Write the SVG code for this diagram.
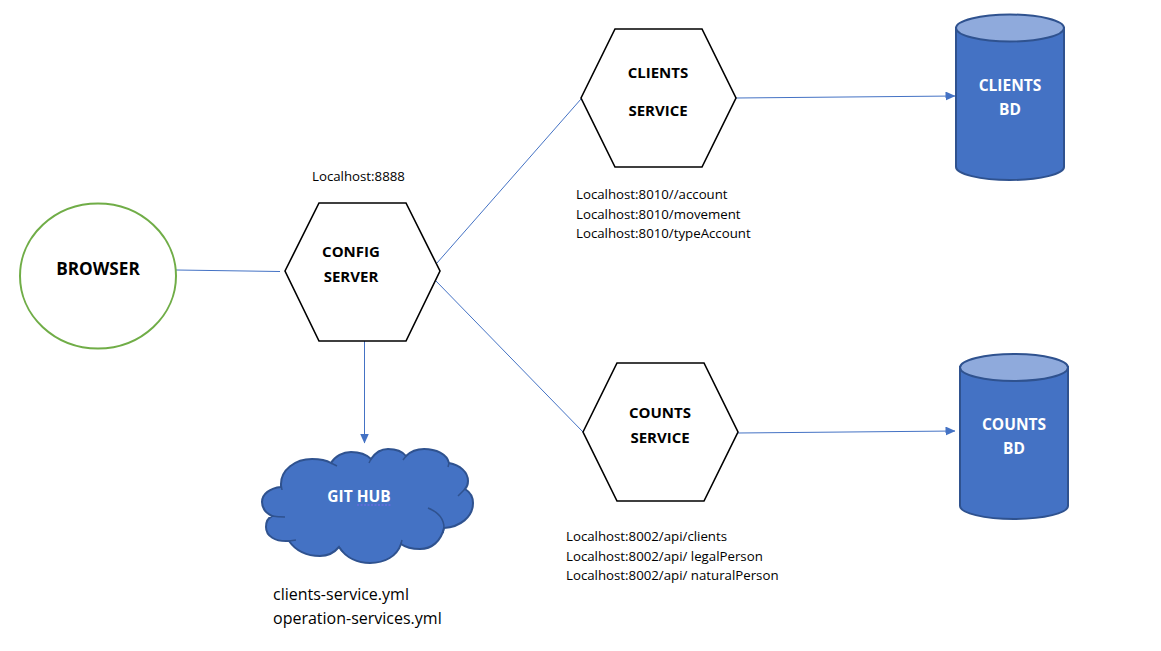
<svg xmlns="http://www.w3.org/2000/svg" width="1161" height="651" viewBox="0 0 1161 651">
<style>
text{font-family:"Open Sans","Noto Sans","Liberation Sans",sans-serif}
.hex{fill:#fff;stroke:#000;stroke-width:1.6}
.t{font-size:15px;font-weight:700;fill:#000;text-anchor:middle}
.w{font-size:15.500px;font-weight:700;fill:#fff;text-anchor:middle}
.s{font-size:13.250px;fill:#000}
.m{font-size:16px;fill:#000}
.blue{fill:#4472c4;stroke:#2f528f;stroke-width:2}
.top{fill:#8faadc;stroke:#2f528f;stroke-width:2}
.line{fill:none;stroke:#4472c4;stroke-width:1}
.cl{fill:none;stroke:#2f528f;stroke-width:1.5}
</style>
<defs>
<marker id="a" markerUnits="userSpaceOnUse" markerWidth="10" markerHeight="10" refX="9.500" refY="4.500" orient="auto"><path d="M0 0L10 4.500L0 9Z" fill="#4472c4"/></marker>
</defs>
<g id="connectors">
<path class="line" d="M176 270L280 271.500"/>
<path class="line" d="M437 263L581 99"/>
<path class="line" d="M436 281L583 432"/>
<path class="line" d="M364.500 341V443" marker-end="url(#a)"/>
<path class="line" d="M736 98L955 96" marker-end="url(#a)"/>
<path class="line" d="M738 433L955 431" marker-end="url(#a)"/>
</g>
<g id="browser">
<ellipse cx="98" cy="276" rx="78" ry="72.500" fill="#fff" stroke="#70ad47" stroke-width="2"/>
<text class="t" x="98" y="275" style="font-size:17.200px">BROWSER</text>
</g>
<g id="config-server">
<polygon class="hex" points="285,271 319,203 406,203 440,271 406,341 319,341"/>
<text class="t" x="351" y="257">CONFIG</text>
<text class="t" x="351" y="282">SERVER</text>
<text class="s" x="312" y="181">Localhost:8888</text>
</g>
<g id="clients-service">
<polygon class="hex" points="581,98 615,29 702,29 736,98 702,167 615,167"/>
<text class="t" x="658" y="78">CLIENTS</text>
<text class="t" x="658" y="116">SERVICE</text>
<text class="s" x="576" y="199">Localhost:8010//account</text>
<text class="s" x="576" y="219">Localhost:8010/movement</text>
<text class="s" x="576" y="238">Localhost:8010/typeAccount</text>
</g>
<g id="counts-service">
<polygon class="hex" points="583,432 617,363 704,363 738,432 704,501 617,501"/>
<text class="t" x="660" y="418">COUNTS</text>
<text class="t" x="660" y="443">SERVICE</text>
<text class="s" x="566" y="541">Localhost:8002/api/clients</text>
<text class="s" x="566" y="561">Localhost:8002/api/ legalPerson</text>
<text class="s" x="566" y="580">Localhost:8002/api/ naturalPerson</text>
</g>
<g id="clients-bd">
<path class="blue" d="M956 28V167C956 174 980 180 1010 180S1064 174 1064 167V28Z"/>
<ellipse class="top" cx="1010" cy="28" rx="54" ry="13.500"/>
<text class="w" x="1010" y="91">CLIENTS</text>
<text class="w" x="1010" y="115">BD</text>
</g>
<g id="counts-bd">
<path class="blue" d="M960 367V506C960 513 984 519 1014 519S1068 513 1068 506V367Z"/>
<ellipse class="top" cx="1014" cy="367.500" rx="54" ry="13.500"/>
<text class="w" x="1014" y="430">COUNTS</text>
<text class="w" x="1014" y="454">BD</text>
</g>
<g id="git-hub">
<path class="blue" d="M281 484C281 470 295 459 312 459C320 459 326 460 331 463C335 456 343 452 351 452C358 452 366 454 371 459C375 453 381 449 388 449C395 449 402 451 406 456C411 451 417 449 424 449C436 449 447 454 449 463C460 465 468 472 468 481C468 484 467 487 465 489C470 492 473 497 473 503C473 517 460 527 444 528C441 541 432 549 420 549C412 549 405 547 401 544C397 556 385 563 370 563C358 563 346 558 339 547C334 553 328 556 320 556C307 556 296 551 289 541C275 542 266 536 266 527C266 522 268 518 272 516C266 513 262 508 262 502C262 494 270 488 281 487Z"/>
<path class="cl" d="M331 463L337 466M371 459L369 463M406 456L403 460M449 463L448 467M465 489L458 496M428 508C438 512 444 519 444 528L443 533M401 544L402 540M339 547L343 552M289 541L296 540M272 516Q278 517 285 517M281 484L282 490"/>
<text class="w" x="359" y="502">GIT HUB</text>
<path d="M357 505H391" fill="none" stroke="#7b68ee" stroke-width="1" stroke-dasharray="2 1.500"/>
<text class="m" x="273" y="600">clients-service.yml</text>
<text class="m" x="273" y="624">operation-services.yml</text>
</g>
</svg>
